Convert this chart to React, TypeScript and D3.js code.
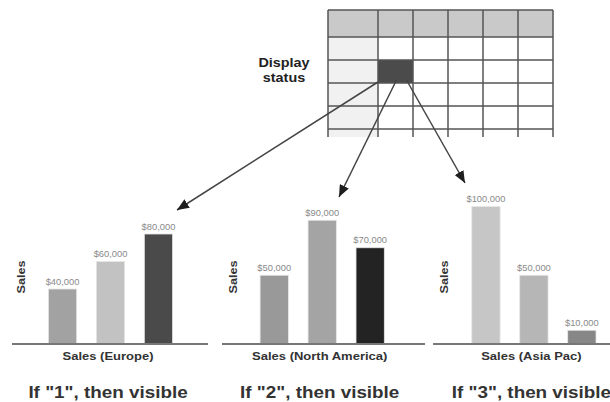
import React from "react";
import * as d3 from "d3";

const W = 610;
const H = 402;

const regions = ["Europe", "North America", "Asia Pac"];
const europeSales = [40000, 60000, 80000];
const northAmericaSales = [50000, 90000, 70000];
const asiaPacSales = [100000, 50000, 10000];
const seriesByRegion = [europeSales, northAmericaSales, asiaPacSales];
const barColors = [
  ["#a2a2a2", "#c2c2c2", "#4a4a4a"],
  ["#999999", "#a4a4a4", "#232323"],
  ["#c6c6c6", "#b6b6b6", "#878787"],
];
const captions = ['If "1", then visible', 'If "2", then visible', 'If "3", then visible'];
const statusLabel = ["Display", "status"];

const fmt = (v: number) => "$" + d3.format(",")(v);

function SText(props: any) {
  const { x, y, sx = 1, rotate = 0, children, ...rest } = props;
  return (
    <text transform={`translate(${x},${y}) rotate(${rotate}) scale(${sx},1)`} {...rest}>
      {children}
    </text>
  );
}

export default function App() {
  const font = "'Liberation Sans', Arial, sans-serif";
  const baseY = 344;
  const y = d3.scaleLinear().domain([0, 100000]).range([baseY, 206.5]);
  const chartStep = 211.7;
  const chartX0 = 34;
  const chartW = 153;
  const axisSpans = [
    [12, 208],
    [222, 425],
    [433, 610],
  ];

  // grid
  const gx0 = 328;
  const firstColW = 50;
  const colW = 35;
  const nCols = 6;
  const gy0 = 10;
  const headerH = 27;
  const rowH = 23;
  const gridBottom = 137;
  const colEdges = d3.range(nCols + 1).map((i) => (i === 0 ? gx0 : gx0 + firstColW + (i - 1) * colW));
  const rowEdges: number[] = [gy0, gy0 + headerH];
  while (rowEdges[rowEdges.length - 1] + rowH < gridBottom) rowEdges.push(rowEdges[rowEdges.length - 1] + rowH);
  const activeCol = 1;
  const activeRow = 2;

  const cellX = colEdges[activeCol];
  const cellB = rowEdges[activeRow + 1];
  const arrows = [
    { x1: cellX, y1: cellB - 1, x2: 177, y2: 210 },
    { x1: cellX + 18.5, y1: cellB - 3, x2: 339, y2: 197 },
    { x1: cellX + 28.5, y1: cellB - 3, x2: 465, y2: 183 },
  ];

  return (
    <svg width={W} height={H} style={{ position: "absolute", left: 0, top: 0, background: "#fff" }} fontFamily={font}>
      <defs>
        <marker id="ah" viewBox="0 0 12 10" refX="12" refY="5" markerWidth="12" markerHeight="10" markerUnits="userSpaceOnUse" orient="auto">
          <path d="M0,0 L12,5 L0,10 Z" fill="#1e1e1e" />
        </marker>
      </defs>

      {/* grid */}
      <rect x={gx0} y={gy0} width={colEdges[nCols] - gx0} height={headerH} fill="#c9c9c9" />
      <rect x={gx0} y={gy0 + headerH} width={firstColW} height={gridBottom - gy0 - headerH} fill="#f1f1f1" />
      <rect
        x={colEdges[activeCol]}
        y={rowEdges[activeRow]}
        width={colEdges[activeCol + 1] - colEdges[activeCol]}
        height={rowEdges[activeRow + 1] - rowEdges[activeRow]}
        fill="#4b4b4b"
      />
      {colEdges.map((cx, i) => (
        <line key={"c" + i} x1={cx} x2={cx} y1={gy0} y2={gridBottom} stroke="#555" strokeWidth={1.5} />
      ))}
      {rowEdges.map((ry, i) => (
        <line key={"r" + i} x1={gx0} x2={colEdges[nCols]} y1={ry} y2={ry} stroke="#555" strokeWidth={1.5} />
      ))}

      <SText x={284} y={66.5} sx={1.2} textAnchor="middle" fontSize={12} fontWeight="bold" fill="#222">
        {statusLabel[0]}
      </SText>
      <SText x={284} y={81.5} sx={1.2} textAnchor="middle" fontSize={12} fontWeight="bold" fill="#222">
        {statusLabel[1]}
      </SText>

      {arrows.map((a, i) => (
        <line key={"a" + i} x1={a.x1} y1={a.y1} x2={a.x2} y2={a.y2} stroke="#444" strokeWidth={1.5} markerEnd="url(#ah)" />
      ))}

      {regions.map((region, ci) => {
        const off = ci * chartStep;
        const x = d3
          .scaleBand<number>()
          .domain(d3.range(3))
          .range([chartX0 + off, chartX0 + chartW + off])
          .paddingInner(0.41)
          .paddingOuter(0.3);
        const vals = seriesByRegion[ci];
        const center = chartX0 + off + chartW / 2 - 2.5;
        return (
          <g key={region}>
            {vals.map((v, i) => (
              <g key={i}>
                <rect
                  x={x(i)}
                  y={y(v)}
                  width={x.bandwidth()}
                  height={baseY - y(v)}
                  fill={barColors[ci][i]}
                  stroke="#e6e6e6"
                  strokeWidth={0.8}
                />
                <SText
                  x={(x(i) as number) + x.bandwidth() / 2}
                  y={y(v) - 4.5}
                  sx={1.1}
                  textAnchor="middle"
                  fontSize={8.5}
                  fill="#8a8a8a"
                >
                  {fmt(v)}
                </SText>
              </g>
            ))}
            <line x1={axisSpans[ci][0]} x2={axisSpans[ci][1]} y1={baseY} y2={baseY} stroke="#777" strokeWidth={2} />
            <SText x={chartX0 + off - 9} y={277} rotate={-90} sx={1.1} textAnchor="middle" fontSize={11.5} fontWeight="bold" fill="#333">
              Sales
            </SText>
            <SText x={center} y={360} sx={1.13} textAnchor="middle" fontSize={11.5} fontWeight="bold" fill="#333">
              {`Sales (${region})`}
            </SText>
            <SText x={center} y={397.5} sx={1.11} textAnchor="middle" fontSize={17} fontWeight="bold" fill="#333">
              {captions[ci]}
            </SText>
          </g>
        );
      })}
    </svg>
  );
}
